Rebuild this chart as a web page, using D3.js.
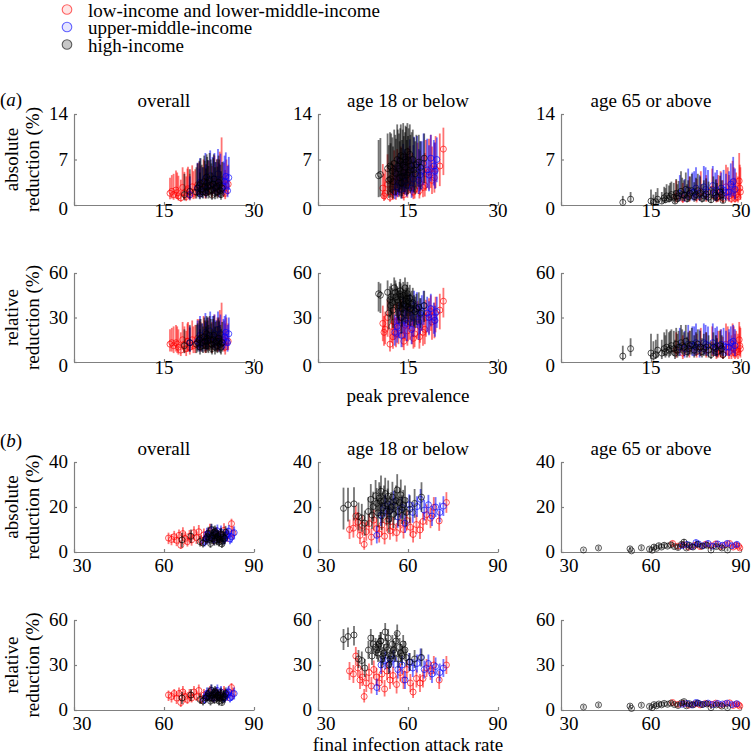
<!DOCTYPE html>
<html><head><meta charset="utf-8">
<script src="https://cdn.jsdelivr.net/npm/d3@7"></script>
<style>body{margin:0;background:#fff;}</style></head>
<body><svg id="c" width="751" height="756"></svg>
<script>
// ---------- labels / ticks ----------
const incomeGroups = ["low-income and lower-middle-income", "upper-middle-income", "high-income"];
const ageGroups = ["overall", "age 18 or below", "age 65 or above"];
const xTitles = ["peak prevalence", "final infection attack rate"];
const yTitles = [["absolute", "reduction (%)"], ["relative", "reduction (%)"]];
const ticksAx = [0, 15, 30];
const ticksAabs = [0, 7, 14];
const ticksArel = [0, 30, 60];
const ticksBx = [30, 60, 90];
const ticksBabs = [0, 20, 40];
const ticksBrel = [0, 30, 60];

// ---------- data: [x, abs, absLo, absHi, rel, relLo, relHi] ----------
// (a) peak prevalence
const aOverallLow = [
[16.0,1.8,0.9,4.2,12,7,22],[16.3,2.1,1.0,4.6,13,7,23],[16.6,1.6,0.8,4.8,11,6,24],[17.0,2.3,1.0,5.3,13,7,25],
[17.2,1.9,0.9,5.0,12,6,24],[17.4,1.4,0.7,4.5,10,5,22],[17.8,1.1,0.5,3.9,8,4,20],[18.1,2.7,1.3,5.8,15,8,27],
[18.4,1.9,0.9,5.1,12,6,24],[18.7,1.3,0.6,4.4,9,4,21],[18.9,2.2,1.1,5.6,14,7,26],[19.0,2.5,1.2,5.9,14,7,27],
[19.3,1.5,0.7,4.8,10,5,23],[19.7,2.8,1.4,6.1,15,8,28],[19.9,1.8,0.9,5.2,11,6,24],[20.2,2.0,1.0,5.5,12,6,25],
[20.6,3.1,1.6,6.4,16,9,29],[20.9,2.9,1.5,6.6,15,8,29],[21.1,2.4,1.2,6.0,13,7,27],[21.6,3.4,1.7,7.0,17,9,31],
[21.9,2.0,1.0,5.8,12,6,26],[22.0,2.6,1.3,6.3,14,7,28],[22.5,3.0,1.5,6.8,15,8,30],[23.0,2.2,1.1,6.0,12,6,27],
[23.4,3.6,1.8,7.6,17,9,32],[23.9,2.8,1.4,7.1,14,7,30],[24.0,2.4,1.2,6.6,13,7,29],[24.3,3.3,1.7,8.2,16,8,35],
[24.6,3.9,2.0,10.4,18,9,40],[25.0,2.5,1.3,6.5,13,7,28],[25.2,1.8,0.9,5.4,10,5,26],[25.4,3.0,1.6,7.0,14,8,30],
[25.7,3.2,1.7,6.2,14,8,26]];
const aOverallUpper = [
[19.3,1.6,0.8,4.4,13,7,24],[20.6,2.6,1.4,6.5,14,8,28],[20.9,1.9,1.0,5.6,12,7,25],[21.0,3.5,1.8,7.2,18,10,31],
[21.4,2.1,1.1,5.8,13,7,26],[21.9,4.1,2.2,8.0,20,11,33],[22.0,2.4,1.2,6.2,14,8,27],[22.3,3.0,1.6,6.9,16,9,30],
[22.7,4.5,2.4,8.4,21,12,34],[23.1,3.3,1.7,7.4,17,9,31],[23.4,4.0,2.1,8.0,19,10,32],[23.6,2.7,1.4,6.6,14,8,28],
[24.0,4.8,2.5,8.6,22,12,34],[24.2,2.3,1.2,6.4,13,7,27],[24.4,3.8,2.0,7.9,19,10,32],[24.9,2.9,1.5,6.7,15,8,29],
[25.1,3.6,1.9,7.6,17,9,31],[25.3,4.4,2.3,8.1,20,11,32],[25.6,2.2,1.2,6.0,13,7,25],[25.8,4.2,2.3,7.4,19,11,30]];
const aOverallHigh = [
[18.4,1.6,0.7,4.8,11,6,22],[19.3,2.1,1.0,5.5,13,7,25],[20.4,2.0,1.0,5.8,12,6,25],[20.6,2.6,1.3,6.4,13,7,26],
[20.9,3.0,1.5,6.8,15,8,28],[21.0,1.7,0.9,5.0,10,5,22],[21.1,3.3,1.6,7.2,16,8,29],[21.3,2.4,1.2,6.2,13,7,26],
[21.5,2.0,1.0,5.8,11,6,24],[21.7,3.6,1.8,7.6,17,9,30],[21.8,2.9,1.4,6.8,14,7,28],[22.0,1.9,1.0,5.6,11,6,24],
[22.1,4.3,2.2,7.8,19,10,31],[22.2,3.4,1.7,7.4,16,8,30],[22.3,2.8,1.4,6.9,14,7,28],[22.4,2.1,1.0,6.0,11,6,25],
[22.6,3.9,2.0,8.0,18,10,31],[22.8,3.0,1.5,7.0,15,8,29],[22.9,2.3,1.2,6.4,12,6,26],[23.0,1.5,0.8,5.0,9,5,22],
[23.2,3.2,1.6,7.2,15,8,29],[23.3,4.0,2.0,7.8,18,9,31],[23.5,1.8,0.9,5.8,10,5,24],[23.6,2.6,1.3,6.6,13,7,27],
[23.8,2.9,1.5,7.0,14,7,28],[23.9,2.0,1.0,5.9,11,6,24],[24.1,3.5,1.8,7.6,16,8,30],[24.2,3.0,1.5,7.0,14,7,28],
[24.4,2.2,1.1,6.2,12,6,25],[24.5,1.6,0.8,5.2,10,5,22],[24.7,2.6,1.3,6.6,13,7,27]];

const aU18Low = [
[10.8,2.6,1.0,6.3,26,14,38],[11.0,1.4,0.6,4.8,20,11,31],[11.2,1.8,0.8,5.5,22,12,34],[11.6,3.2,1.4,7.8,30,17,42],
[12.0,1.2,0.5,4.6,12,7,22],[12.3,2.4,1.0,6.8,24,13,36],[12.5,2.0,0.8,6.2,17,9,28],[12.7,3.6,1.6,8.4,27,15,39],
[13.0,1.9,0.8,6.0,19,10,30],[13.2,3.8,1.7,8.6,28,16,40],[13.4,2.8,1.2,7.3,23,12,35],[13.8,4.2,1.9,9.0,30,17,42],
[14.1,2.2,1.0,6.6,18,10,30],[14.3,1.6,0.7,5.8,14,8,26],[14.5,3.4,1.5,8.2,25,14,37],[14.9,2.6,1.1,7.4,21,11,33],
[15.0,3.6,1.6,8.8,26,14,38],[15.3,4.0,1.8,9.1,27,15,39],[15.7,3.0,1.3,8.0,23,12,35],[15.9,2.0,0.9,6.6,16,9,28],
[16.1,2.4,1.0,7.2,19,10,30],[16.6,4.4,2.0,9.6,29,16,41],[16.9,2.2,1.0,7.0,17,9,29],[17.0,3.3,1.5,8.4,24,13,36],
[17.5,2.7,1.2,7.6,20,11,31],[17.8,3.0,1.3,8.0,22,12,33],[18.0,4.8,2.2,10.0,30,17,42],[18.5,5.1,2.4,10.2,32,19,43],
[18.8,5.6,2.6,10.8,34,21,45],[19.0,3.8,1.7,9.0,27,15,38],[19.4,4.2,1.9,9.6,28,16,40],[19.6,5.5,2.6,10.6,33,20,44],
[20.3,6.0,2.9,11.0,35,22,46],[20.9,8.6,4.6,11.9,41,30,50]];
const aU18Upper = [
[12.8,2.0,0.9,6.2,20,11,32],[13.2,2.8,1.2,7.4,24,13,36],[13.5,3.4,1.5,8.0,28,16,40],[13.9,2.4,1.0,6.8,18,10,29],
[14.2,4.4,2.0,9.4,33,20,44],[14.5,3.6,1.6,8.6,28,16,40],[14.8,3.0,1.3,7.9,26,14,38],[15.3,5.0,2.4,10.1,35,22,46],
[15.6,2.6,1.1,7.4,22,12,34],[15.9,4.0,1.8,9.2,30,17,42],[16.0,6.2,3.0,10.5,38,25,48],[16.5,5.8,2.8,10.6,36,23,47],
[16.8,3.8,1.7,8.6,27,15,39],[17.0,4.6,2.1,9.8,32,19,43],[17.3,5.2,2.4,9.8,34,21,45],[17.6,6.4,3.1,11.0,38,25,48],
[18.2,5.4,2.6,10.2,33,20,44],[18.5,4.6,2.1,9.2,30,18,41],[18.8,7.2,3.6,10.8,36,24,46],[19.3,6.0,3.0,10.0,30,19,40],
[19.5,5.2,2.5,9.6,28,17,38],[19.8,7.0,3.5,10.4,34,23,44]];
const aU18High = [
[10.1,4.5,1.2,10.0,46,34,54],[10.4,4.7,1.3,10.3,45,33,53],[11.6,5.6,1.6,11.0,47,35,55],[11.8,3.8,1.1,9.2,33,22,43],
[12.0,6.0,2.0,11.2,42,30,51],[12.1,4.0,1.2,9.5,38,26,48],[12.2,5.8,1.8,11.0,44,32,53],[12.4,5.2,1.7,10.4,40,28,50],
[12.5,3.6,1.0,9.0,35,23,45],[12.7,6.4,2.2,11.6,50,38,57],[12.9,5.0,1.6,10.8,47,35,55],[13.0,4.8,1.5,10.2,44,31,53],
[13.2,7.0,2.6,12.4,42,30,51],[13.3,6.0,2.0,11.6,40,28,50],[13.5,5.6,1.9,11.0,38,26,48],[13.6,4.2,1.3,9.8,46,34,54],
[13.7,6.8,2.4,11.8,48,36,56],[13.8,7.6,2.8,12.4,44,32,53],[13.9,3.4,1.0,8.8,30,19,40],[14.0,4.4,1.4,10.0,36,24,46],
[14.1,6.2,2.2,11.6,42,30,51],[14.2,7.4,2.8,12.6,45,33,54],[14.3,5.0,1.7,10.6,39,27,49],[14.5,5.8,2.0,11.2,50,38,57],
[14.6,7.0,2.6,12.2,38,26,48],[14.7,6.6,2.4,12.0,41,29,50],[14.8,4.6,1.5,10.0,43,31,52],[14.9,8.2,3.4,12.6,46,34,54],
[15.0,5.0,1.7,10.6,37,25,47],[15.1,6.8,2.4,11.8,41,29,50],[15.3,7.8,3.0,12.4,43,31,52],[15.4,5.4,1.9,10.8,36,24,46],
[15.6,6.0,2.2,11.2,39,27,48],[15.8,7.0,2.7,11.6,40,28,50],[16.0,5.4,2.0,10.4,35,24,45],[16.2,4.8,1.7,9.8,34,23,44],
[16.4,6.2,2.4,10.8,36,25,46],[16.8,6.6,2.8,10.8,37,26,47],[17.1,5.8,2.4,9.8,33,23,43],[17.7,7.2,3.4,11.0,38,27,48]];

const aO65Low = [
[19.2,1.3,0.4,3.8,8,3,20],[20.3,1.0,0.3,3.4,6,2,18],[21.4,1.6,0.5,4.4,9,3,21],[22.6,1.2,0.4,4.0,7,3,19],
[23.3,2.0,0.7,5.2,10,4,23],[24.2,1.5,0.5,4.6,8,3,20],[25.2,2.4,0.9,5.6,11,4,24],[25.9,1.1,0.4,4.0,6,2,18],
[26.2,1.4,0.5,4.6,8,3,21],[26.6,2.0,0.7,5.2,9,3,22],[27.0,1.0,0.3,3.8,5,2,17],[27.5,2.8,1.0,6.2,12,5,26],
[27.8,2.0,0.7,5.8,10,4,24],[28.0,1.4,0.5,4.6,7,2,20],[28.4,1.0,0.3,4.0,6,2,18],[28.6,2.8,1.0,6.8,12,5,26],
[28.8,2.2,0.8,5.8,9,3,24],[29.0,1.0,0.4,4.2,6,2,19],[29.2,1.6,0.6,5.0,8,3,21],[29.5,1.2,0.4,4.4,7,2,19],
[29.7,3.7,1.5,8.0,15,6,27],[29.8,2.6,1.0,6.2,11,4,24],[29.9,2.0,0.8,5.8,9,3,23]];
const aO65Upper = [
[19.8,1.8,0.6,4.6,10,4,23],[20.6,1.5,0.5,4.0,9,3,21],[21.2,2.3,0.8,5.6,12,5,25],[21.9,1.9,0.7,5.0,11,4,24],
[22.2,2.0,0.7,5.2,11,4,24],[22.5,2.6,0.9,5.8,13,5,26],[23.1,1.6,0.6,4.6,9,3,22],[23.8,2.8,1.0,6.0,13,5,26],
[24.1,2.4,0.8,5.8,12,5,25],[24.5,2.0,0.7,5.4,11,4,24],[25.3,3.0,1.1,6.0,13,5,26],[25.7,1.8,0.6,5.0,10,4,23],
[26.0,2.2,0.8,5.4,11,4,24],[26.7,2.6,0.9,5.0,12,5,22],[27.1,2.3,0.8,5.4,11,4,23],[27.5,1.9,0.7,4.8,10,4,21],
[28.0,2.0,0.7,5.2,10,4,22],[28.3,3.2,1.2,6.4,13,5,24],[28.7,3.6,1.4,7.4,14,6,25],[29.0,2.4,0.9,5.6,11,4,22]];
const aO65High = [
[10.3,0.4,0.1,1.4,4,1,11],[11.6,0.9,0.3,2.0,9,4,16],[15.0,0.6,0.2,2.4,6,2,19],[15.4,0.4,0.1,1.6,4,1,14],
[15.8,0.5,0.2,2.0,5,2,15],[16.1,0.9,0.3,2.6,8,3,19],[16.8,0.6,0.2,2.0,6,2,15],[17.2,1.1,0.4,2.8,9,4,20],
[17.4,0.8,0.3,2.6,7,3,18],[17.6,1.4,0.5,3.2,10,4,22],[18.0,1.0,0.4,3.0,8,3,20],[18.2,1.3,0.5,3.4,9,4,21],
[18.4,1.6,0.6,3.6,11,5,22],[18.8,1.2,0.4,3.4,9,4,21],[19.0,0.6,0.2,2.2,6,2,15],[19.2,1.8,0.7,4.0,12,5,23],
[19.4,1.0,0.4,3.2,8,3,19],[19.6,1.4,0.5,3.7,10,4,21],[20.0,2.1,0.8,5.2,13,6,25],[20.2,1.6,0.6,4.2,11,5,22],
[20.5,1.5,0.6,3.8,10,4,20],[20.8,2.4,1.0,5.0,14,6,25],[21.0,1.0,0.4,3.2,7,3,17],[21.2,1.3,0.5,3.8,9,4,20],
[21.5,1.8,0.7,4.4,11,5,21],[21.8,2.2,0.9,4.8,12,5,23],[22.2,1.3,0.5,3.5,8,3,18],[22.5,1.6,0.6,4.2,10,4,20],
[22.8,2.2,0.9,4.8,12,5,22],[23.2,1.8,0.7,4.4,10,4,21],[23.5,1.0,0.4,3.2,7,3,16],[23.8,1.4,0.5,3.8,9,4,19],
[24.2,1.7,0.7,4.1,10,4,20],[24.6,1.2,0.5,3.6,8,3,18],[25.0,0.8,0.3,2.8,5,2,14],[25.4,1.9,0.7,4.4,10,4,20],
[25.8,1.5,0.6,3.9,9,4,18],[26.0,1.2,0.5,3.4,7,3,16],[26.5,2.0,0.8,4.5,11,5,21],[26.8,1.6,0.6,3.8,9,4,18],
[27.0,0.7,0.3,2.6,5,2,13]];

// (b) final infection attack rate
const bOverallLow = [
[61.5,6.2,3.5,8.6,10,6,13],[62.5,5.6,3.0,8.0,9,5,12],[63.4,6.8,4.0,9.4,11,7,14],[64.2,5.2,2.6,7.8,8,4,12],
[65.0,7.4,4.5,10.0,11,7,15],[65.6,3.0,1.4,5.2,5,2,8],[66.3,8.2,5.0,11.0,12,8,16],[67.0,6.0,3.4,8.8,9,5,13],
[67.8,4.6,2.4,7.0,7,4,11],[68.5,7.0,4.2,9.8,10,6,14],[69.2,5.4,2.8,8.0,8,5,12],[70.0,8.6,5.4,11.4,12,8,16],
[70.8,6.4,3.6,9.2,9,6,13],[71.6,9.0,5.8,12.0,13,9,17],[72.4,5.0,2.6,7.6,7,4,11],[73.3,7.6,4.6,10.4,10,7,14],
[74.2,6.6,3.8,9.4,9,6,13],[75.3,9.4,6.0,12.6,12,8,16],[76.5,6.0,3.4,8.8,8,5,12],[77.6,8.0,5.0,11.0,11,7,15],
[78.8,6.8,4.0,9.6,9,6,13],[80.0,9.6,6.2,12.8,12,8,16],[81.2,7.2,4.4,10.0,10,6,14],[82.5,12.6,9.0,14.8,15,11,18],
[83.0,8.4,5.4,11.2,11,7,15]];
const bOverallUpper = [
[73.5,4.4,2.4,7.0,7,4,11],[74.0,6.2,3.6,9.0,9,6,13],[74.3,8.0,5.0,10.8,11,7,15],[75.0,6.4,3.8,9.2,9,6,13],
[75.8,9.6,6.4,12.4,13,9,17],[76.2,7.0,4.2,9.8,10,6,14],[76.6,5.6,3.2,8.2,8,5,12],[77.4,7.8,4.8,10.6,11,7,15],
[77.8,9.4,6.2,12.2,13,9,17],[78.2,6.2,3.6,9.0,9,6,13],[79.0,8.8,5.6,11.8,12,8,16],[79.8,5.8,3.4,8.4,8,5,12],
[80.2,6.0,3.4,8.8,8,5,12],[80.7,7.4,4.6,10.2,10,7,14],[81.1,8.0,5.0,10.8,11,7,15],[81.6,9.2,6.0,12.0,12,8,16],
[82.0,5.8,3.4,8.4,8,5,12],[82.5,6.8,4.0,9.6,9,6,13],[83.4,8.6,5.6,11.4,11,7,15]];
const bOverallHigh = [
[66.0,5.4,2.0,8.6,8,4,12],[69.0,7.0,4.0,10.0,10,6,14],[72.0,4.6,2.4,7.2,7,4,11],[73.0,4.0,2.0,6.6,6,3,10],
[74.0,5.8,3.4,8.4,8,5,12],[74.5,6.8,4.0,9.6,9,6,13],[74.8,8.4,5.4,11.2,11,8,15],[75.2,5.6,3.2,8.2,8,5,12],
[75.5,3.8,1.8,6.2,6,3,10],[75.8,10.0,7.0,12.6,13,9,17],[76.0,6.0,3.6,8.6,8,5,12],[76.3,7.4,4.6,10.2,10,7,14],
[76.6,8.6,5.6,11.4,11,8,15],[76.8,5.0,2.8,7.6,7,4,11],[77.0,9.0,6.0,11.8,12,8,16],[77.3,8.2,5.2,11.0,11,7,15],
[77.6,5.4,3.0,8.0,8,5,12],[77.8,6.2,3.6,9.0,9,5,13],[78.0,7.0,4.2,9.8,10,6,14],[78.3,4.4,2.4,7.0,6,3,10],
[78.6,5.6,3.2,8.2,8,5,12],[78.8,7.6,4.8,10.4,10,7,14],[79.0,8.0,5.0,10.8,11,7,15],[79.3,3.6,1.8,6.0,5,3,9],
[79.6,4.8,2.6,7.4,7,4,11],[79.8,6.6,3.8,9.4,9,6,13],[80.2,6.2,3.6,9.0,9,5,13],[80.5,8.8,5.8,11.6,11,8,15]];

const bU18Low = [
[40.5,10.0,5.8,14.4,26,20,32],[41.8,10.6,6.4,15.0,24,18,30],[42.6,16.0,11.2,20.6,36,30,42],[43.3,13.2,8.6,17.8,28,22,34],
[44.0,7.4,3.6,11.4,20,14,26],[44.8,11.8,7.4,16.2,22,16,28],[45.4,3.4,1.0,6.6,9,5,14],[46.1,9.0,5.0,13.2,18,12,24],
[47.0,12.6,8.2,17.0,25,19,31],[47.8,6.6,3.0,10.4,16,11,22],[48.6,14.2,9.6,18.8,27,21,33],[49.5,10.4,6.2,14.8,22,16,28],
[50.4,8.0,4.2,12.0,18,12,24],[51.3,12.0,7.6,16.4,24,18,30],[52.2,7.0,3.4,11.0,14,9,20],[53.0,13.8,9.2,18.4,26,20,32],
[54.0,9.4,5.4,13.6,20,14,26],[55.0,11.2,7.0,15.6,23,17,29],[56.2,8.6,4.6,12.8,17,11,23],[57.4,12.8,8.4,17.2,25,19,31],
[58.5,10.0,6.0,14.4,20,14,26],[59.6,14.0,9.6,18.4,27,21,33],[60.8,11.0,7.0,15.4,18,12,24],[61.7,7.8,4.2,11.6,12,8,18],
[62.8,12.2,8.0,16.6,21,15,27],[64.0,9.8,5.8,14.0,18,12,24],[65.0,13.6,9.4,17.8,21,15,27],[66.2,16.6,12.0,21.2,28,22,34],
[67.5,15.0,10.6,19.6,26,20,32],[68.6,19.8,15.2,24.4,30,24,36],[70.4,13.8,9.4,18.2,20,14,26],[72.8,22.0,17.4,26.6,30,24,36]];
const bU18Upper = [
[49.6,7.4,3.8,11.6,15,10,21],[51.0,16.4,11.6,21.2,30,24,36],[52.4,20.6,15.8,25.4,33,27,39],[53.8,18.0,13.2,22.8,31,25,37],
[55.2,22.4,17.6,27.2,34,28,40],[56.6,15.6,10.8,20.4,27,21,33],[58.0,19.8,15.0,24.6,30,24,36],[59.0,12.8,8.4,17.2,20,14,26],
[60.4,21.0,16.4,25.6,32,26,38],[61.6,17.6,13.0,22.2,28,22,34],[63.0,20.2,15.6,24.8,31,25,37],[64.2,23.4,18.8,28.0,35,29,41],
[65.4,18.6,14.0,23.2,27,21,33],[66.8,21.0,16.6,25.4,31,25,37],[68.0,16.0,11.6,20.4,24,18,30],[69.2,20.0,15.6,24.4,29,23,35],
[70.6,17.6,13.2,22.0,25,19,31],[71.8,20.4,16.0,24.8,28,22,34]];
const bU18High = [
[38.5,19.4,10.0,28.6,47,40,54],[40.0,21.0,13.6,28.6,49,42,55],[42.0,21.4,14.0,28.8,50,43,56],[43.5,15.8,9.6,22.0,34,28,40],
[44.6,15.2,9.0,21.4,33,27,39],[45.6,12.8,7.2,18.4,28,22,34],[46.8,18.0,11.6,24.4,40,34,46],[47.6,23.4,16.6,30.2,48,42,54],
[48.0,16.4,10.2,22.6,36,30,42],[48.4,20.2,13.6,26.8,44,38,50],[49.2,25.0,18.0,32.0,42,36,48],[49.6,21.6,14.8,28.4,40,34,46],
[50.0,17.4,11.0,23.8,38,32,44],[50.4,24.0,17.0,31.0,44,38,50],[50.8,22.6,15.8,29.4,46,40,52],[51.0,27.0,20.0,34.0,46,40,52],
[51.2,16.0,9.8,22.2,34,28,40],[51.6,19.6,13.0,26.2,36,30,42],[52.0,22.8,16.0,29.6,38,32,44],[52.4,26.0,19.0,33.0,52,46,58],
[52.8,18.2,11.8,24.6,42,36,48],[53.2,21.4,14.6,28.2,40,34,46],[53.4,24.8,17.8,31.8,48,42,54],[53.6,14.6,8.6,20.6,30,24,36],
[54.0,18.4,12.0,24.8,34,28,40],[54.4,20.0,13.4,26.6,36,30,42],[54.8,24.4,17.6,31.2,44,38,50],[55.2,16.8,10.6,23.0,40,34,46],
[55.6,20.8,14.2,27.4,38,32,44],[56.0,22.8,16.0,29.6,46,40,52],[56.4,27.6,20.6,34.6,51,45,57],[56.8,18.0,11.6,24.4,34,28,40],
[57.2,22.0,15.4,28.6,42,36,48],[57.6,25.4,18.6,32.2,38,32,44],[58.0,18.8,12.4,25.2,36,30,42],[58.4,21.0,14.4,27.6,44,38,50],
[59.0,23.0,16.4,29.6,40,34,46],[59.4,17.6,11.2,24.0,35,29,41],[60.6,19.0,12.8,25.2,32,26,38],[62.2,21.6,15.2,28.0,34,28,40],
[64.5,24.4,17.8,31.0,35,29,41]];

const bO65Low = [
[67.2,3.8,2.6,5.0,5.0,3.6,6.4],[69.0,2.6,1.6,3.7,3.8,2.4,5.2],[70.8,3.2,2.0,4.4,4.4,3.0,5.8],[72.6,2.2,1.2,3.3,3.2,1.8,4.6],
[74.6,3.0,1.9,4.2,4.0,2.6,5.4],[76.4,2.4,1.4,3.5,3.4,2.0,4.8],[78.2,3.4,2.2,4.6,4.4,3.0,5.8],[80.0,2.8,1.8,3.9,3.8,2.4,5.2],
[81.6,3.6,2.4,4.8,4.6,3.2,6.0],[83.2,2.4,1.4,3.5,3.2,1.8,4.6],[84.8,3.2,2.0,4.4,4.2,2.8,5.6],[86.2,3.8,2.6,5.0,4.8,3.4,6.2],
[87.4,2.2,1.2,3.3,3.0,1.6,4.4],[88.4,3.0,1.9,4.2,4.0,2.6,5.4],[89.2,2.6,1.6,3.7,3.4,2.0,4.8],[89.6,1.8,0.9,2.8,2.6,1.4,4.0]];
const bO65Upper = [
[70.4,2.8,1.8,3.9,3.8,2.4,5.2],[72.0,3.4,2.2,4.6,4.4,3.0,5.8],[73.6,2.4,1.4,3.5,3.4,2.0,4.8],[75.0,4.2,2.9,5.5,5.0,3.6,6.4],
[75.8,3.6,2.4,4.8,4.6,3.2,6.0],[77.4,2.8,1.8,3.9,3.8,2.4,5.2],[79.0,3.8,2.6,5.0,4.6,3.2,6.0],[80.6,2.6,1.6,3.7,3.6,2.2,5.0],
[82.2,3.6,2.4,4.8,4.4,3.0,5.8],[83.8,3.0,1.9,4.2,4.0,2.6,5.4],[85.4,3.8,2.6,5.0,4.6,3.2,6.0],[87.0,2.8,1.8,3.9,3.6,2.2,5.0],
[88.6,3.4,2.2,4.6,4.2,2.8,5.6]];
const bO65High = [
[37.5,0.9,0.3,1.6,2.0,0.8,3.4],[42.5,1.8,0.9,2.8,3.4,2.0,4.8],[53.0,1.4,0.6,2.3,2.6,1.4,4.0],[53.5,0.5,0.1,1.2,1.0,0.3,2.0],
[56.8,1.9,1.0,2.9,3.2,2.0,4.6],[59.5,1.3,0.6,2.2,2.4,1.2,3.8],[60.4,0.8,0.3,1.6,1.6,0.6,2.8],[61.0,2.2,1.2,3.3,3.6,2.2,5.0],
[61.8,1.6,0.8,2.6,2.8,1.6,4.2],[62.6,2.8,1.7,3.9,4.0,2.6,5.4],[63.5,2.2,1.2,3.3,3.4,2.0,4.8],[64.4,3.0,1.9,4.2,4.4,3.0,5.8],
[65.5,2.6,1.6,3.7,3.8,2.4,5.2],[66.6,3.2,2.0,4.4,4.6,3.2,6.0],[67.8,2.4,1.4,3.5,3.6,2.2,5.0],[69.0,2.0,1.0,3.1,3.0,1.8,4.4],
[70.2,3.4,2.2,4.6,4.8,3.4,6.2],[71.0,4.4,3.0,5.8,5.6,4.0,7.0],[71.8,1.8,0.9,2.8,2.8,1.6,4.2],[72.8,3.0,1.9,4.2,4.2,2.8,5.6],
[74.0,2.2,1.2,3.3,3.4,2.0,4.8],[75.5,3.4,2.2,4.6,4.6,3.2,6.0],[77.0,2.6,1.6,3.7,3.6,2.2,5.0],[78.6,3.0,1.9,4.2,4.0,2.6,5.4],
[80.0,0.9,0.3,1.7,1.6,0.6,2.8],[81.8,2.4,1.4,3.5,3.4,2.0,4.8],[83.6,1.8,0.9,2.8,2.6,1.4,4.0],[85.5,0.9,0.3,1.7,1.6,0.6,2.8]];

// ---------- assembly ----------
const sections = [
  {xDomain:[0,30], xTicks:ticksAx, yTicks:[ticksAabs, ticksArel],
   data:[[aOverallLow,aOverallUpper,aOverallHigh],[aU18Low,aU18Upper,aU18High],[aO65Low,aO65Upper,aO65High]]},
  {xDomain:[30,90], xTicks:ticksBx, yTicks:[ticksBabs, ticksBrel],
   data:[[bOverallLow,bOverallUpper,bOverallHigh],[bU18Low,bU18Upper,bU18High],[bO65Low,bO65Upper,bO65High]]}
];
const colors = ["#ff0000", "#0000ff", "#000000"];

// ---------- layout ----------
const colX = [74, 318, 561];
const panelW = 180;
const rowTB = [[[114,205],[273,362]], [[462,552],[620,710]]];
const titleY = [107, 455];
const secLabelY = [106, 447];
const xTitleY = [402, 751];
const FS = 19;

const svg = d3.select("#c");
function txt(parent){
  return parent.append("text").attr("font-family","Liberation Serif").attr("font-size",FS).attr("fill","#000");
}

// legend
incomeGroups.forEach((g,i)=>{
  const cy = 9.5 + i*17.5;
  svg.append("circle").attr("cx",67).attr("cy",cy).attr("r",4.8)
    .attr("fill",colors[i]).attr("fill-opacity", i==2?0.22:0.1)
    .attr("stroke",colors[i]).attr("stroke-opacity",0.6).attr("stroke-width",1.1);
  txt(svg).attr("x",88).attr("y",cy+7).text(g);
});

sections.forEach((sec, s)=>{
  const sl = txt(svg).attr("x",0).attr("y",secLabelY[s]);
  sl.append("tspan").text("(");
  sl.append("tspan").attr("font-style","italic").text(s==0?"a":"b");
  sl.append("tspan").text(")");
  ageGroups.forEach((ag,c)=>{
    txt(svg).attr("x",colX[c]+panelW/2).attr("y",titleY[s]).attr("text-anchor","middle").text(ag);
  });
  txt(svg).attr("x",colX[1]+panelW/2).attr("y",xTitleY[s]).attr("text-anchor","middle").text(xTitles[s]);

  [0,1].forEach(r=>{
    const [top,bot] = rowTB[s][r];
    const yt = sec.yTicks[r];
    const cyMid = (top+bot)/2;
    yTitles[r].forEach((t,k)=>{
      txt(svg).attr("transform",`translate(${18+k*21},${cyMid}) rotate(-90)`)
        .attr("text-anchor","middle").text(t);
    });
    ageGroups.forEach((ag,c)=>{
      const x = d3.scaleLinear().domain(sec.xDomain).range([colX[c], colX[c]+panelW]);
      const y = d3.scaleLinear().domain([yt[0], yt[yt.length-1]]).range([bot, top]);
      const g = svg.append("g");
      const ax = g.append("g").attr("transform",`translate(0,${bot})`)
        .call(d3.axisBottom(x).tickValues(sec.xTicks).tickSizeInner(-3).tickSizeOuter(0).tickFormat(""));
      const ay = g.append("g").attr("transform",`translate(${colX[c]},0)`)
        .call(d3.axisLeft(y).tickValues(yt).tickSizeInner(-3).tickSizeOuter(0).tickFormat(""));
      [ax,ay].forEach(a=>{a.selectAll("path,line").attr("stroke","#808080").attr("stroke-width",1.2);});
      yt.forEach((v,i)=>{
        const yy = i==0 ? (s==0 ? bot+4 : bot) : y(v);
        txt(g).attr("x",colX[c]-6).attr("y",yy).attr("dy","0.33em")
          .attr("text-anchor","end").text(v);
      });
      sec.xTicks.forEach((v,i)=>{
        if (s==0 && i==0) return;
        let xx = x(v); if (i==0) xx += 8;
        txt(g).attr("x",xx).attr("y", bot + (s==0?12:20)).attr("text-anchor","middle").text(v);
      });
      sec.data[c].forEach((pts,gi)=>{
        const o = r==0 ? 1 : 4;
        const gg = g.append("g");
        gg.selectAll("line").data(pts).join("line")
          .attr("x1",d=>x(d[0])).attr("x2",d=>x(d[0]))
          .attr("y1",d=>y(d[o+1])).attr("y2",d=>y(d[o+2]))
          .attr("stroke",colors[gi]).attr("stroke-opacity",0.55).attr("stroke-width",1.8);
        gg.selectAll("circle").data(pts).join("circle")
          .attr("cx",d=>x(d[0])).attr("cy",d=>y(d[o])).attr("r",3)
          .attr("fill","none").attr("stroke",colors[gi]).attr("stroke-opacity",0.65).attr("stroke-width",1);
      });
    });
  });
});
</script></body></html>
